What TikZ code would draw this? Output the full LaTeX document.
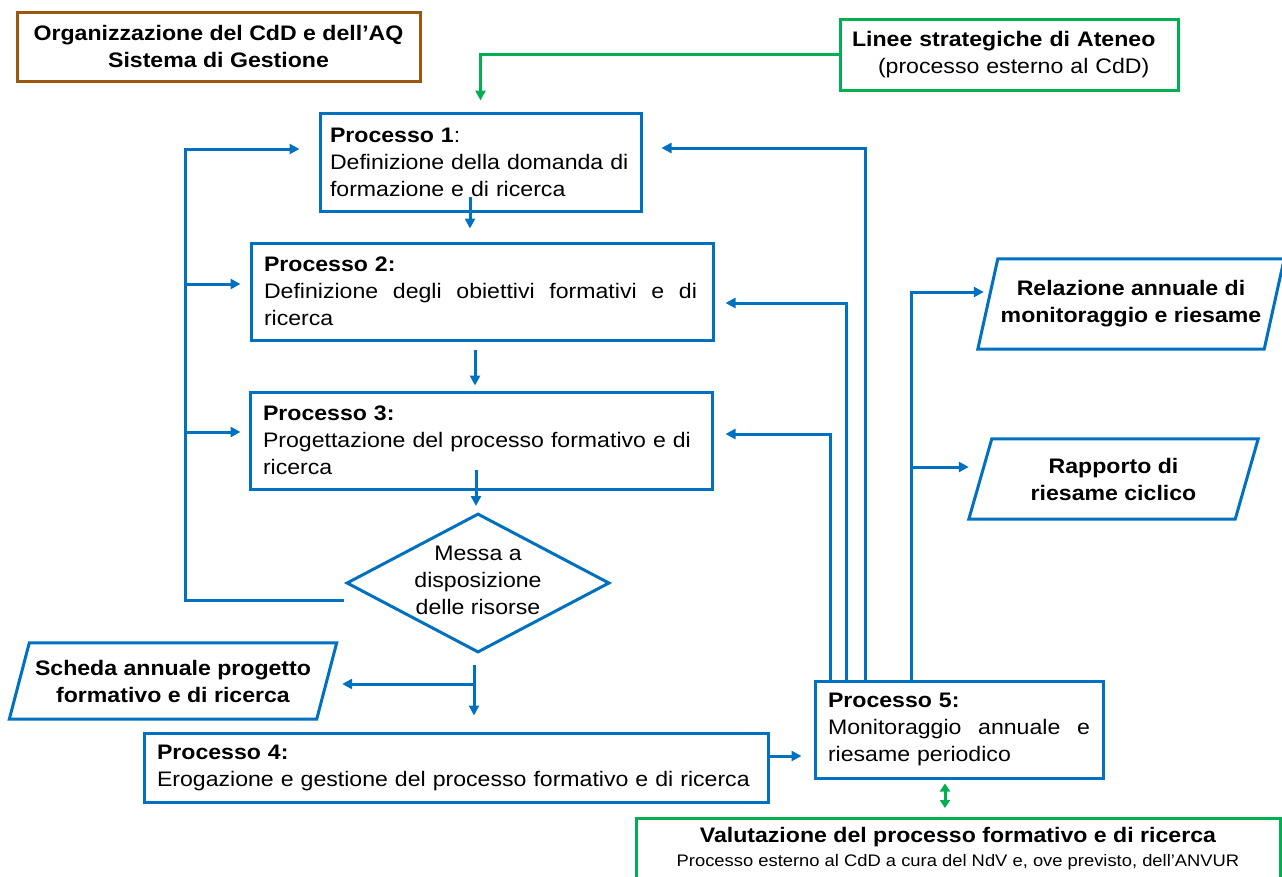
\documentclass[tikz,border=0pt]{standalone}
\usepackage{fontspec}
\setmainfont{Liberation Sans}[FakeStretch=1.1]
\usetikzlibrary{arrows.meta,shapes.geometric,calc}
\definecolor{cblue}{RGB}{0,112,192}
\definecolor{cgreen}{RGB}{0,176,80}
\definecolor{cbrown}{RGB}{156,87,12}
\newcommand{\fmain}{\fontsize{21}{27}\selectfont}
\newcommand{\fsmall}{\fontsize{16.7}{20}\selectfont}
\newcommand{\jl}[2]{\makebox[#1][s]{\spaceskip=0.3em plus 2em\relax #2}}
\begin{document}
\begin{tikzpicture}[x=1pt,y=-1pt,
  pbox/.style={draw=cblue, line width=3pt, inner xsep=12pt, inner ysep=0pt, align=left, font=\fmain, text=black},
  otext/.style={align=center, font=\fmain\bfseries, inner sep=0pt, text=black},
  obox/.style={draw=cblue, line width=3pt, line join=miter},
  conn/.style={draw=cblue, line width=3pt, -{Triangle[length=10pt,width=10pt]}},
  gconn/.style={draw=cgreen, line width=3pt, -{Triangle[length=10pt,width=10pt]}},
  gconn2/.style={draw=cgreen, line width=3pt, {Triangle[length=8pt,width=10pt]}-{Triangle[length=8pt,width=10pt]}}
]
\useasboundingbox (0,0) rectangle (1282,876);
\clip (0,0) rectangle (1282,876);

% boxes
\node[pbox, draw=cbrown, align=center, font=\fmain\bfseries, minimum width=403pt, minimum height=69pt, inner xsep=0pt] (org) at (218.5,46.5) {Organizzazione del CdD e dell’AQ\\Sistema di Gestione};
\node[pbox, draw=cgreen, minimum width=338pt, minimum height=71pt, text width=314pt] (lin) at (1009,54.5) {\textbf{Linee strategiche di Ateneo}\\\hspace*{26pt}(processo esterno al CdD)};

\node[pbox, inner xsep=10pt, minimum height=98pt, text width=301pt] (p1) at (480.5,162) {\textbf{Processo 1}:\\Definizione della domanda di\\formazione e di ricerca};
\node[pbox, inner xsep=13pt, minimum height=97pt, text width=436pt] (p2) at (482,291.5) {\textbf{Processo 2:}\\\jl{433pt}{Definizione degli obiettivi formativi e di}\\ricerca};
\node[pbox, inner xsep=13pt, minimum height=97pt, text width=436pt] (p3) at (481,440.5) {\textbf{Processo 3:}\\Progettazione del processo formativo e di\\ricerca};
\node[pbox, inner xsep=13pt, minimum height=69pt, text width=598pt] (p4) at (456,767.5) {\textbf{Processo 4:}\\Erogazione e gestione del processo formativo e di ricerca};
\node[pbox, inner xsep=13pt, minimum height=97pt, text width=262pt] (p5) at (959,729.5) {\textbf{Processo 5:}\\\jl{262pt}{Monitoraggio annuale e}\\riesame periodico};

\node[draw=cblue, line width=3pt, diamond, minimum width=263pt, minimum height=139pt, inner sep=0pt,
  label={[font=\fmain, align=center, yshift=3pt, text=black]center:Messa a\\disposizione\\delle risorse}] (dm) at (478,583) {};

% parallelograms
\node[otext, minimum width=307pt, minimum height=76pt] (sch) at (173,681) {Scheda annuale progetto\\formativo e di ricerca};
\draw[obox] ([xshift=10pt]sch.north west) -- ([xshift=10pt]sch.north east) -- ([xshift=-10pt]sch.south east) -- ([xshift=-10pt]sch.south west) -- cycle;
\node[otext, minimum width=286pt, minimum height=90pt] (rel) at (1131,304) {Relazione annuale di\\monitoraggio e riesame};
\draw[obox] ([xshift=10pt]rel.north west) -- ([xshift=10pt]rel.north east) -- ([xshift=-10pt]rel.south east) -- ([xshift=-10pt]rel.south west) -- cycle;
\node[otext, minimum width=266pt, minimum height=80pt] (rap) at (1113.5,479) {Rapporto di\\riesame ciclico};
\draw[obox] ([xshift=11.5pt]rap.north west) -- ([xshift=11.5pt]rap.north east) -- ([xshift=-11.5pt]rap.south east) -- ([xshift=-11.5pt]rap.south west) -- cycle;

\node[pbox, draw=cgreen, anchor=north, minimum width=644pt, inner ysep=9pt, inner xsep=0pt, align=center] (val) at (958,817) {\textbf{Valutazione del processo formativo e di ricerca}\\[-3pt]{\fsmall Processo esterno al CdD a cura del NdV e, ove previsto, dell’ANVUR}};

% connectors
\draw[gconn, shorten >=11pt] (lin.west) -| (p1.north);
\coordinate (gA) at ([xshift=-14pt]p5.south);
\draw[gconn2, shorten <=4pt, shorten >=9pt] (gA) -- (gA |- val.north);

\coordinate (c12) at (470,197);
\draw[conn, shorten >=13pt] (c12) -- (c12 |- p2.north);
\coordinate (c23) at ([xshift=-7pt]p2.south);
\draw[conn, shorten <=8pt, shorten >=5pt] (c23) -- (c23 |- p3.north);
\coordinate (c3d) at (476,470);
\draw[conn, shorten >=6pt] (c3d) -- (c3d |- dm.north);
\coordinate (cd4) at ([xshift=-4pt]dm.south);
\draw[conn, shorten <=11pt, shorten >=16pt] (cd4) -- (cd4 |- p4.north);
\coordinate (bj) at (474,684);
\draw[conn, shorten >=15.5pt] (bj) -- (bj -| sch.east);

\coordinate (fb0) at (344,600);
\coordinate (fb1) at (185,600);
\coordinate (fbP1) at ([yshift=13pt]p1.west);
\draw[conn, shorten >=19pt] (fb0) -- (fb1) |- (fbP1);
\coordinate (fbP2) at ([yshift=7.5pt]p2.west);
\draw[conn, shorten >=9pt] (fb1 |- fbP2) -- (fbP2);
\coordinate (fbP3) at ([yshift=8.5pt]p3.west);
\draw[conn, shorten >=8pt] (fb1 |- fbP3) -- (fbP3);

\coordinate (q1) at ([xshift=-94pt]p5.north);
\draw[conn, shorten >=19pt] (q1) |- ([yshift=14pt]p1.east);
\coordinate (q2) at ([xshift=-113pt]p5.north);
\draw[conn, shorten >=11pt] (q2) |- ([yshift=-11.5pt]p2.east);
\coordinate (q3) at ([xshift=-129pt]p5.north);
\draw[conn, shorten >=12pt] (q3) |- ([yshift=6.5pt]p3.east);
\coordinate (q4) at ([xshift=-48pt]p5.north);
\draw[conn, shorten >=4pt] (q4) |- ([yshift=12pt]rel.west);
\coordinate (rapW) at ([yshift=12pt]rap.west);
\draw[conn, shorten >=11.5pt] (q4 |- rapW) -- (rapW);

\draw[conn, shorten >=12pt] ([yshift=11.5pt]p4.east) -- ([yshift=-26.5pt]p5.west);
\end{tikzpicture}
\end{document}
